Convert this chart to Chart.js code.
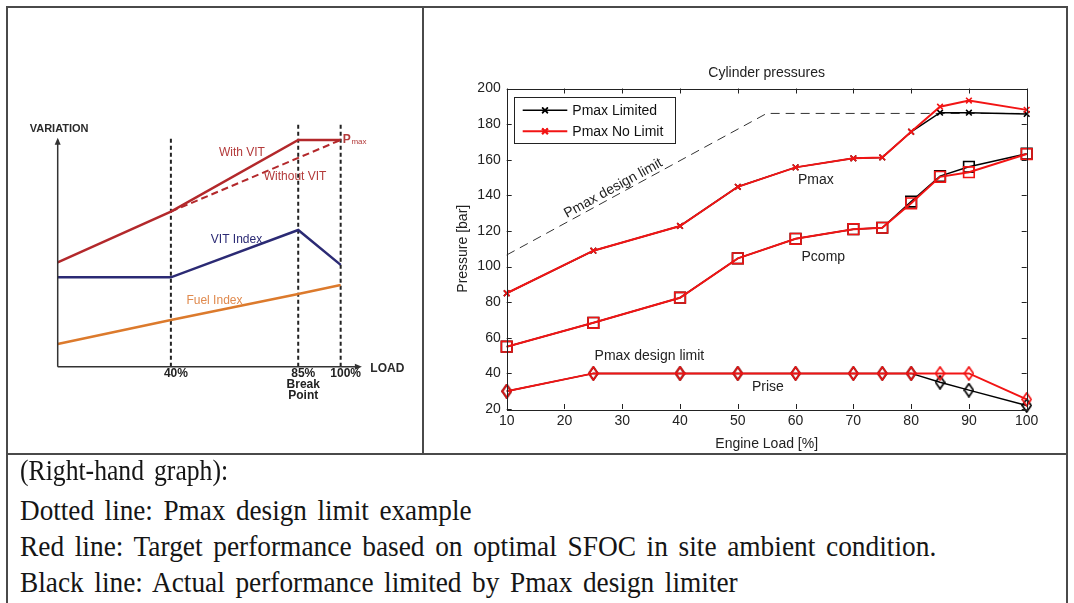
<!DOCTYPE html>
<html>
<head>
<meta charset="utf-8">
<script src="https://cdn.jsdelivr.net/npm/chart.js@4.4.1/dist/chart.umd.min.js"></script>
<style>
  html, body { margin: 0; padding: 0; background: #fff; }
  body { width: 1074px; height: 603px; position: relative; overflow: hidden; }
  .rule { position: absolute; background: #4a4a4a; }
  #variationChart { position: absolute; left: 9px; top: 9px; filter: blur(0.6px); }
  #pressureChart { position: absolute; left: 425px; top: 9px; }
  .note {
    position: absolute; left: 20px; white-space: nowrap; transform-origin: 0 0;
    font-family: "Liberation Serif", "Times New Roman", serif;
    font-size: 29px; line-height: 29px; color: #151515; word-spacing: 4px;
  }
</style>
</head>
<body>
<div class="rule" style="left:6px;top:6px;width:1062px;height:2px"></div>
<div class="rule" style="left:6px;top:6px;width:2px;height:597px"></div>
<div class="rule" style="left:1066px;top:6px;width:2px;height:597px"></div>
<div class="rule" style="left:422px;top:6px;width:2px;height:448px"></div>
<div class="rule" style="left:6px;top:453px;width:1062px;height:2px"></div>

<canvas id="variationChart" width="412" height="444"></canvas>
<canvas id="pressureChart" width="640" height="444"></canvas>

<div class="note" style="top:456px" data-right="228">(Right-hand graph):</div>
<div class="note" style="top:496px" data-right="472">Dotted line: Pmax design limit example</div>
<div class="note" style="top:532px" data-right="936">Red line: Target performance based on optimal SFOC in site ambient condition.</div>
<div class="note" style="top:568px" data-right="738">Black line: Actual performance limited by Pmax design limiter</div>

<script>
// ---------- left: VIT schematic ----------
const stageLoads = [0, 40, 85, 100];
const withVit = [46, 68.4, 100, 100];
const withoutVitLoads = [40, 100];
const withoutVit = [68.4, 100];
const vitIndex = [39.4, 39.4, 60.3, 44.9];
const fuelIndex = [10, 20.6, 32.1, 36];
const markLoads = [40, 85, 100];
const markTops = [101, 107, 107];

// ---------- right: cylinder pressures ----------
const loads = [10, 25, 40, 50, 60, 70, 75, 80, 85, 90, 100];
const pmaxNoLimit = [85, 108.9, 122.8, 144.8, 155.7, 160.8, 161.3, 175.7, 189.8, 193.2, 188];
const pmaxLimited = [85, 108.9, 122.8, 144.8, 155.7, 160.8, 161.3, 175.7, 186.4, 186.4, 185.7];
const pcompNoLimit = [55, 68.4, 82.5, 104.6, 115.6, 121, 121.8, 135.5, 150.4, 153, 163.2];
const pcompLimited = [55, 68.4, 82.5, 104.6, 115.6, 121, 121.8, 136.5, 150.8, 156, 163.4];
const priseNoLimit = [30, 40, 40, 40, 40, 40, 40, 40, 40, 40, 25.4];
const priseLimited = [30, 40, 40, 40, 40, 40, 40, 40, 35, 30.6, 22];
const limitLoads = [10, 55, 100];
const designLimit = [106.5, 186, 186];

const xy = (xs, ys) => xs.map((x, i) => ({ x, y: ys[i] }));
const SANS = '"Liberation Sans", Arial, sans-serif';

// caption lines are set in a narrow serif: squeeze each to its column width
document.querySelectorAll('.note').forEach(el => {
  const want = +el.dataset.right - 20;
  el.style.transform = 'scaleX(' + (want / el.offsetWidth).toFixed(4) + ')';
});

// ---- left chart ----
const RED = '#b3282b', NAVY = '#2b2a74', ORANGE = '#dc7a2c';

const vitDecor = {
  id: 'vitDecor',
  afterDatasetsDraw(chart) {
    const { ctx, scales: { x, y } } = chart;
    const x0 = x.getPixelForValue(0), y0 = y.getPixelForValue(0);
    const xTip = x.getPixelForValue(107.5), yTip = y.getPixelForValue(101);
    ctx.save();
    ctx.strokeStyle = '#333'; ctx.fillStyle = '#333'; ctx.lineWidth = 1.5;
    ctx.beginPath(); ctx.moveTo(x0, y0); ctx.lineTo(x0, yTip + 2); ctx.moveTo(x0, y0); ctx.lineTo(xTip - 2, y0); ctx.stroke();
    ctx.beginPath(); ctx.moveTo(x0, yTip); ctx.lineTo(x0 - 3, yTip + 7); ctx.lineTo(x0 + 3, yTip + 7); ctx.fill();
    ctx.beginPath(); ctx.moveTo(xTip, y0); ctx.lineTo(xTip - 7, y0 - 3); ctx.lineTo(xTip - 7, y0 + 3); ctx.fill();

    const put = (text, vx, vy, font, color, align) => {
      ctx.font = font; ctx.fillStyle = color; ctx.textAlign = align || 'center'; ctx.textBaseline = 'middle';
      ctx.fillText(text, x.getPixelForValue(vx), y.getPixelForValue(vy));
    };
    put('VARIATION', 0.5, 104.9, 'bold 11px ' + SANS, '#2a2a2a');
    put('LOAD', 116.5, -0.7, 'bold 12px ' + SANS, '#2a2a2a');
    put('With VIT', 65.1, 94.3, '12px ' + SANS, '#b33a3a');
    put('Without VIT', 83.9, 83.8, '12px ' + SANS, '#b33a3a');
    put('VIT Index', 63.2, 56.2, '12px ' + SANS, NAVY);
    put('Fuel Index', 55.4, 29.1, '12px ' + SANS, '#e08a4e');
    put('P', 100.7, 100, 'bold 12px ' + SANS, '#b33a3a', 'left');
    put('max', 103.8, 99, '8px ' + SANS, '#b33a3a', 'left');
    ctx.restore();
  }
};

const guideSets = markLoads.map((ld, i) => ({
  data: [{ x: ld, y: 0 }, { x: ld, y: markTops[i] }],
  borderColor: '#222', borderWidth: 2, borderDash: [4, 3], pointRadius: 0, order: 5
}));

new Chart(document.getElementById('variationChart'), {
  type: 'line',
  data: {
    datasets: [
      { data: xy(stageLoads, withVit), borderColor: RED, borderWidth: 2.5, pointRadius: 0, order: 1 },
      { data: xy(withoutVitLoads, withoutVit), borderColor: RED, borderWidth: 2, borderDash: [7, 4], pointRadius: 0, order: 2 },
      { data: xy(stageLoads, vitIndex), borderColor: NAVY, borderWidth: 2.5, pointRadius: 0, order: 1 },
      { data: xy(stageLoads, fuelIndex), borderColor: ORANGE, borderWidth: 2.5, pointRadius: 0, order: 1 },
      ...guideSets
    ]
  },
  options: {
    responsive: false,
    animation: false,
    clip: false,
    layout: { padding: { left: 48.7, top: 115.1, right: 57.7, bottom: 0 } },
    plugins: { legend: { display: false }, tooltip: { enabled: false } },
    scales: {
      x: {
        type: 'linear', min: 0, max: 108,
        grid: { display: false }, border: { display: false },
        afterBuildTicks: s => { s.ticks = markLoads.map(v => ({ value: v })); },
        afterFit: s => { s.height = 86.3; },
        ticks: {
          autoSkip: false, maxRotation: 0, padding: -6, labelOffset: 5, color: '#222',
          font: { family: SANS, size: 12, weight: 'bold', lineHeight: 0.9 },
          callback: v => v === 85 ? ['85%', 'Break', 'Point'] : v + '%'
        }
      },
      y: { type: 'linear', min: 0, max: 107, display: false }
    }
  },
  plugins: [vitDecor]
});

// ---- right chart ----
function diamondMark(color) {
  const c = document.createElement('canvas');
  c.width = 11; c.height = 15;
  const g = c.getContext('2d');
  g.strokeStyle = color; g.lineWidth = 1.7;
  g.beginPath(); g.moveTo(5.5, 1); g.lineTo(10, 7.5); g.lineTo(5.5, 14); g.lineTo(1, 7.5); g.closePath(); g.stroke();
  return c;
}

const RED2 = '#f21414';
const series = (label, data, color, style, radius, width, order) => ({
  label, data, borderColor: color, borderWidth: width, order,
  pointStyle: style, pointRadius: radius, pointBorderWidth: 1.6,
  pointBorderColor: color, pointBackgroundColor: 'rgba(0,0,0,0)'
});

const boxTicks = {
  id: 'boxTicks',
  afterDatasetsDraw(chart) {
    const { ctx, chartArea: a, scales: { x, y } } = chart;
    ctx.save();
    ctx.strokeStyle = '#222'; ctx.lineWidth = 1;
    ctx.strokeRect(Math.round(a.left) + 0.5, Math.round(a.top) + 0.5, Math.round(a.right - a.left), Math.round(a.bottom - a.top));
    ctx.beginPath();
    x.ticks.forEach(t => {
      const px = Math.round(x.getPixelForValue(t.value)) + 0.5;
      ctx.moveTo(px, a.bottom); ctx.lineTo(px, a.bottom - 5);
      ctx.moveTo(px, a.top); ctx.lineTo(px, a.top + 5);
    });
    y.ticks.forEach(t => {
      const py = Math.round(y.getPixelForValue(t.value)) + 0.5;
      ctx.moveTo(a.left, py); ctx.lineTo(a.left + 5, py);
      ctx.moveTo(a.right, py); ctx.lineTo(a.right - 5, py);
    });
    ctx.stroke();

    // curve annotations
    const notes = [
      { text: 'Pmax', lx: 63.5, ly: 148.6, rot: 0 },
      { text: 'Pcomp', lx: 64.8, ly: 105.5, rot: 0 },
      { text: 'Pmax design limit', lx: 34.7, ly: 49.8, rot: 0 },
      { text: 'Prise', lx: 55.2, ly: 32.2, rot: 0 },
      { text: 'Pmax design limit', lx: 28.45, ly: 143.9, rot: -28.7 }
    ];
    ctx.font = '14px ' + SANS; ctx.fillStyle = '#222';
    ctx.textAlign = 'center'; ctx.textBaseline = 'middle';
    notes.forEach(n => {
      ctx.save();
      ctx.translate(x.getPixelForValue(n.lx), y.getPixelForValue(n.ly));
      ctx.rotate(n.rot * Math.PI / 180);
      ctx.fillText(n.text, 0, 0);
      ctx.restore();
    });

    // legend box
    const bx = a.left + 7.3, by = a.top + 8.8;
    ctx.fillStyle = '#fff';
    ctx.fillRect(bx, by, 161, 46);
    ctx.strokeStyle = '#222';
    ctx.strokeRect(Math.round(bx) + 0.5, Math.round(by) + 0.5, 161, 46);
    const entries = chart.data.datasets.filter(d => d.label === 'Pmax Limited' || d.label === 'Pmax No Limit')
      .sort((p, q) => (p.label === 'Pmax Limited' ? -1 : 1));
    entries.forEach((d, i) => {
      const ry = by + 13 + i * 21;
      ctx.strokeStyle = d.borderColor; ctx.lineWidth = d.borderWidth;
      ctx.beginPath(); ctx.moveTo(bx + 8.7, ry); ctx.lineTo(bx + 53.3, ry); ctx.stroke();
      Chart.helpers.drawPoint(ctx, { pointStyle: d.pointStyle, radius: d.pointRadius, borderWidth: d.pointBorderWidth, rotation: 0 }, bx + 31, ry);
      ctx.stroke();
      ctx.fillStyle = '#111'; ctx.textAlign = 'left';
      ctx.fillText(d.label, bx + 58.3, ry + 0.5);
    });
    ctx.restore();
  }
};

new Chart(document.getElementById('pressureChart'), {
  type: 'line',
  data: {
    datasets: [
      series('Pmax No Limit', xy(loads, pmaxNoLimit), RED2, 'crossRot', 4, 2, 1),
      series('Pcomp No Limit', xy(loads, pcompNoLimit), RED2, 'rect', 7.5, 2, 1),
      series('Prise No Limit', xy(loads, priseNoLimit), RED2, diamondMark(RED2), 6, 2, 1),
      series('Pmax Limited', xy(loads, pmaxLimited), '#000', 'crossRot', 4, 1.5, 2),
      series('Pcomp Limited', xy(loads, pcompLimited), '#000', 'rect', 7.5, 1.5, 2),
      series('Prise Limited', xy(loads, priseLimited), '#000', diamondMark('#000'), 6, 1.5, 2),
      { label: 'Pmax design limit', data: xy(limitLoads, designLimit), borderColor: '#333', borderWidth: 1,
        borderDash: [9, 6], pointRadius: 0, order: 3 }
    ]
  },
  options: {
    responsive: false,
    animation: false,
    clip: false,
    layout: { padding: { left: 26, top: 0, right: 38.3, bottom: 0 } },
    plugins: {
      legend: { display: false },
      tooltip: { enabled: false },
      title: {
        display: true, text: 'Cylinder pressures', fullSize: false, color: '#222',
        font: { family: SANS, size: 14, weight: 'normal' },
        padding: { top: 55.6, bottom: 7.1 }
      }
    },
    scales: {
      x: {
        type: 'linear', min: 10, max: 100,
        grid: { display: false, drawTicks: false }, border: { display: false },
        afterFit: s => { s.height = 44; },
        ticks: { stepSize: 10, padding: 4, color: '#222', maxRotation: 0, font: { family: SANS, size: 14 } },
        title: { display: true, text: 'Engine Load [%]', color: '#222', padding: 0, font: { family: SANS, size: 14 } }
      },
      y: {
        type: 'linear', min: 20, max: 200,
        grid: { display: false, drawTicks: false }, border: { display: false },
        afterFit: s => { s.width = 55.7; },
        ticks: { stepSize: 20, padding: 6, color: '#222', font: { family: SANS, size: 14 } },
        title: { display: true, text: 'Pressure [bar]', color: '#222', padding: 4, font: { family: SANS, size: 14 } }
      }
    }
  },
  plugins: [boxTicks]
});
</script>
</body>
</html>
